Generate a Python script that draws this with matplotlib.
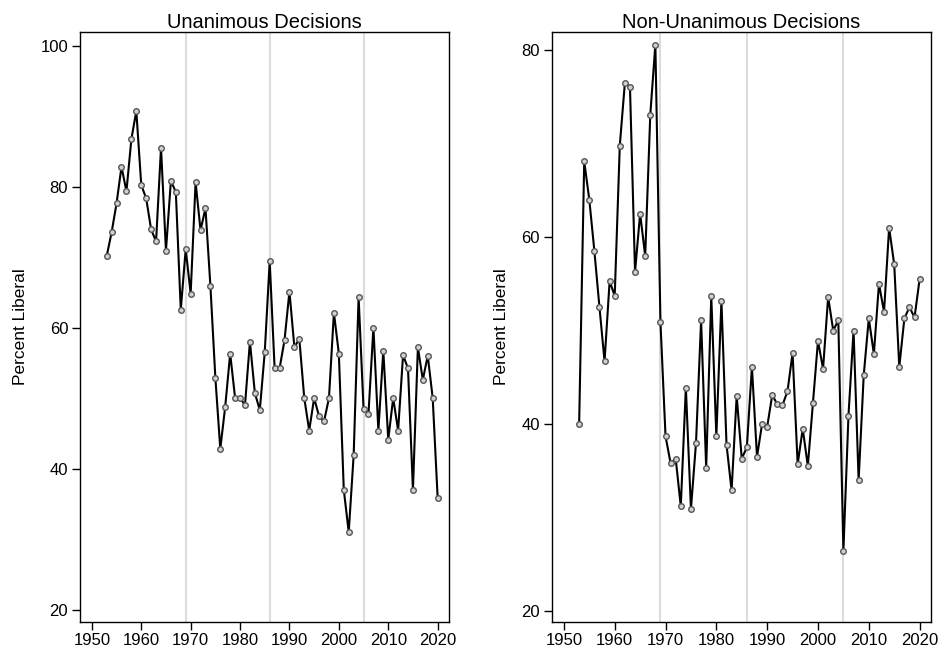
import matplotlib
matplotlib.use('Agg')
from matplotlib import pyplot as plt

plt.rcParams['font.family'] = ['Liberation Sans', 'DejaVu Sans']

years = list(range(1953, 2021))

unanimous = [70.2, 73.6, 77.7, 82.9, 79.4, 86.8, 90.8, 80.3, 78.4, 74.0,
             72.3, 85.6, 71.0, 80.9, 79.3, 62.6, 71.2, 64.9, 80.7, 73.9,
             77.0, 66.0, 53.0, 42.9, 48.9, 56.4, 50.1, 50.1, 49.1, 58.1,
             50.8, 48.4, 56.6, 69.5, 54.3, 54.3, 58.3, 65.2, 57.3, 58.5,
             50.1, 45.5, 50.1, 47.5, 46.8, 50.1, 62.2, 56.4, 37.1, 31.1,
             42.0, 64.4, 48.6, 47.9, 60.1, 45.5, 56.8, 44.2, 50.1, 45.5,
             56.2, 54.3, 37.1, 57.3, 52.7, 56.1, 50.1, 36.0]

non_unanimous = [40.0, 68.1, 64.0, 58.5, 52.5, 46.7, 55.3, 53.7, 69.8, 76.5,
                 76.1, 56.3, 62.5, 58.0, 73.1, 80.6, 50.9, 38.7, 35.8, 36.3,
                 31.2, 43.9, 30.9, 38.0, 51.1, 35.3, 53.7, 38.7, 53.2, 37.8,
                 32.9, 43.0, 36.3, 37.5, 46.1, 36.5, 40.0, 39.7, 43.1, 42.1,
                 42.0, 43.5, 47.6, 35.7, 39.5, 35.5, 42.2, 48.9, 45.9, 53.6,
                 50.0, 51.1, 26.4, 40.9, 50.0, 34.0, 45.2, 51.3, 47.5, 55.0,
                 52.0, 61.0, 57.1, 46.1, 51.3, 52.5, 51.4, 55.5]

court_changes = [1969, 1986, 2005]
x_ticks = [1950, 1960, 1970, 1980, 1990, 2000, 2010, 2020]

panels = [
    ('Unanimous Decisions', unanimous, [20, 40, 60, 80, 100], (18.4, 102.0),
     [80 / 941, 0.0523, 369 / 941, 0.899]),
    ('Non-Unanimous Decisions', non_unanimous, [20, 40, 60, 80], (18.85, 81.95),
     [551.7 / 941, 0.0523, 379.6 / 941, 0.899]),
]

fig = plt.figure(figsize=(9.41, 6.56), dpi=100)

for title, values, y_ticks, ylim, rect in panels:
    ax = fig.add_axes(rect)
    for yr in court_changes:
        ax.axvline(yr, color='#dcdcdc', lw=1.5, zorder=1)
    ax.plot(years, values, color='black', lw=1.5, zorder=2,
            marker='o', ms=4, mfc='#d0d0d0', mec='#555555', mew=1)
    ax.set_xlim(1947.6, 2022.3)
    ax.set_ylim(*ylim)
    ax.set_xticks(x_ticks)
    ax.set_yticks(y_ticks)
    ax.tick_params(direction='out', length=5.5, width=1, pad=3,
                   labelsize=12, colors='black')
    for s in ax.spines.values():
        s.set_linewidth(1)
    ax.set_title(title, fontsize=14.5, pad=2)
    ax.set_ylabel('Percent Liberal', fontsize=12.5, labelpad=9)

fig.savefig('out.png', dpi=100)
